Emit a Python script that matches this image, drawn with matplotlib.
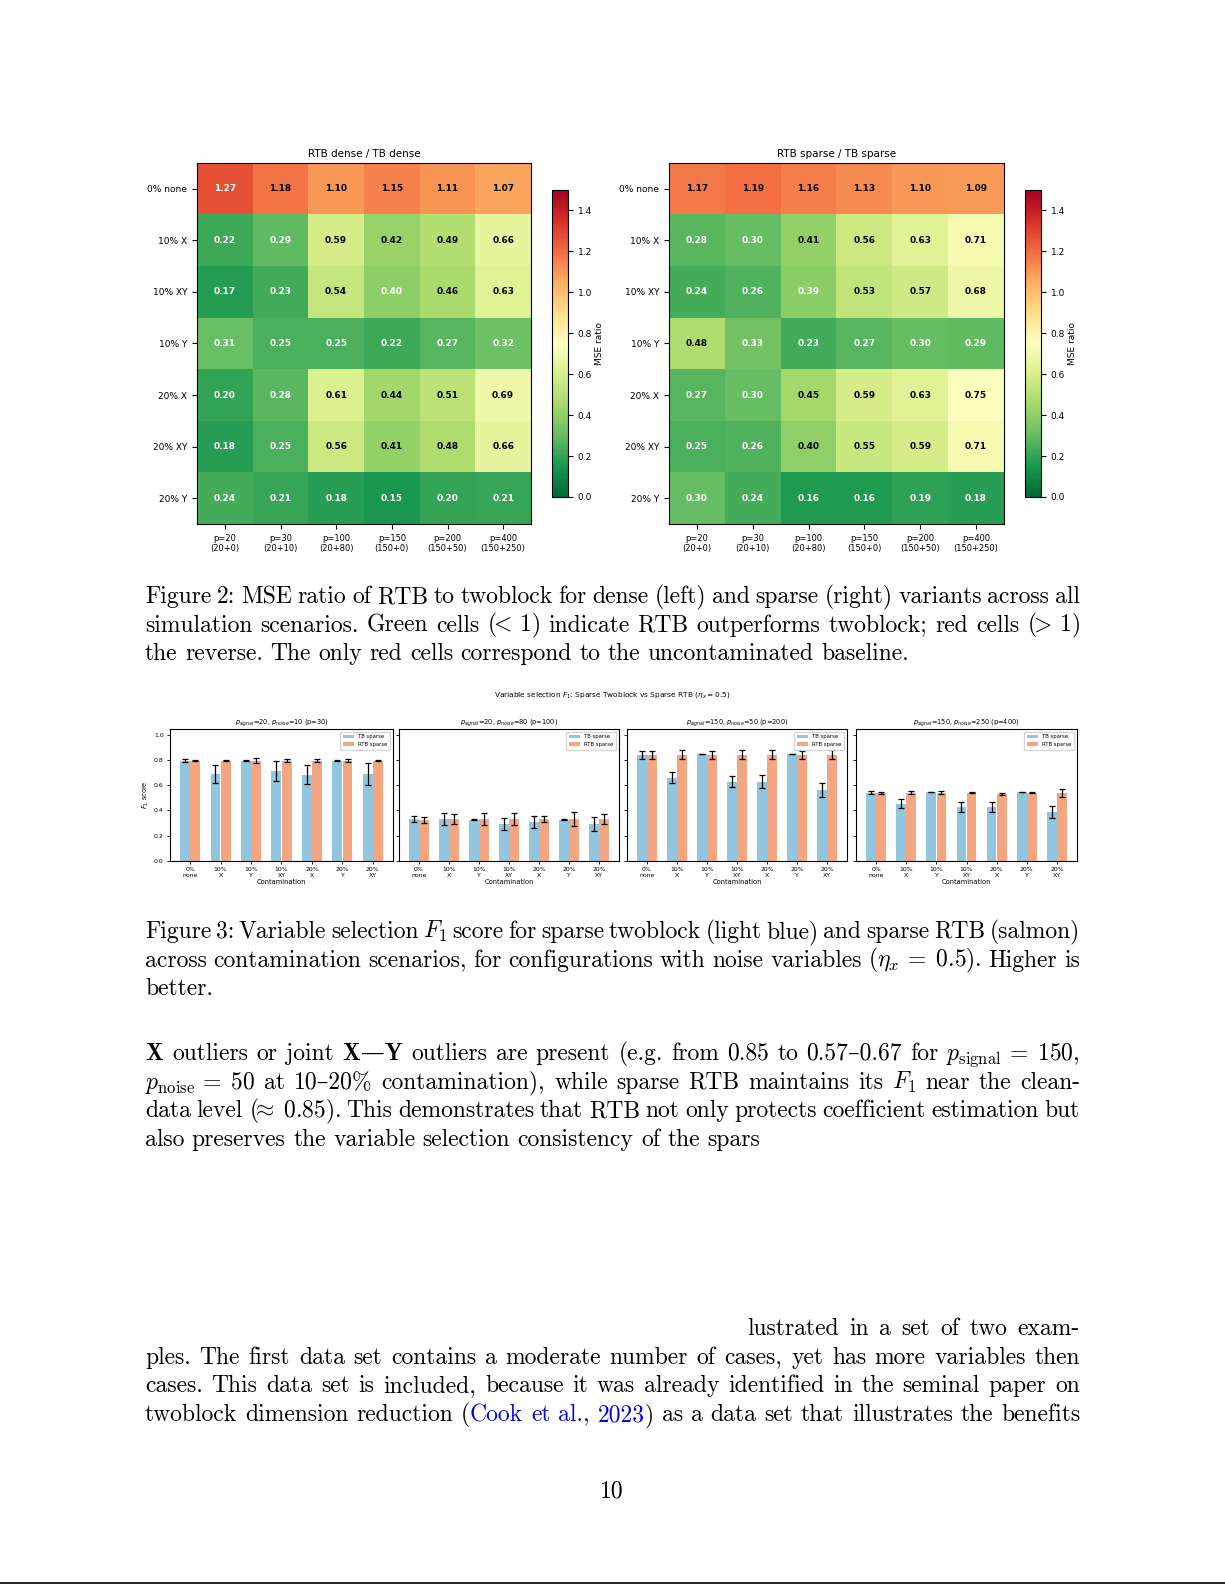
import numpy as np
import matplotlib
matplotlib.use("Agg")
import matplotlib.pyplot as plt
from matplotlib.lines import Line2D

W, H = 1225, 1585

# --- heatmap data (Figure 2) ---
rows = ["0% none", "10% X", "10% XY", "10% Y", "20% X", "20% XY", "20% Y"]
cols = ["p=20\n(20+0)", "p=30\n(20+10)", "p=100\n(20+80)",
        "p=150\n(150+0)", "p=200\n(150+50)", "p=400\n(150+250)"]
dense = [[1.27, 1.18, 1.10, 1.15, 1.11, 1.07],
         [0.22, 0.29, 0.59, 0.42, 0.49, 0.66],
         [0.17, 0.23, 0.54, 0.398, 0.46, 0.63],
         [0.31, 0.25, 0.25, 0.22, 0.27, 0.32],
         [0.20, 0.28, 0.61, 0.44, 0.51, 0.69],
         [0.18, 0.25, 0.56, 0.41, 0.48, 0.66],
         [0.24, 0.21, 0.18, 0.15, 0.20, 0.21]]
sparse = [[1.17, 1.19, 1.16, 1.13, 1.10, 1.09],
          [0.28, 0.30, 0.41, 0.56, 0.63, 0.71],
          [0.24, 0.26, 0.39, 0.53, 0.57, 0.68],
          [0.48, 0.33, 0.23, 0.27, 0.30, 0.29],
          [0.27, 0.30, 0.45, 0.59, 0.63, 0.75],
          [0.25, 0.26, 0.402, 0.55, 0.59, 0.71],
          [0.30, 0.24, 0.16, 0.16, 0.19, 0.18]]

# --- bar data (Figure 3) ---
contam = ["0%\nnone", "10%\nX", "10%\nY", "10%\nXY", "20%\nX", "20%\nY", "20%\nXY"]
panel_titles = [r"$p_{signal}$=20, $p_{noise}$=10 (p=30)",
                r"$p_{signal}$=20, $p_{noise}$=80 (p=100)",
                r"$p_{signal}$=150, $p_{noise}$=50 (p=200)",
                r"$p_{signal}$=150, $p_{noise}$=250 (p=400)"]
tb_mean = [[0.795, 0.69, 0.795, 0.714, 0.683, 0.795, 0.69],
           [0.333, 0.333, 0.328, 0.294, 0.31, 0.328, 0.294],
           [0.841, 0.659, 0.849, 0.627, 0.627, 0.849, 0.563],
           [0.54, 0.452, 0.545, 0.429, 0.429, 0.545, 0.389]]
tb_err = [[0.01, 0.072, 0.004, 0.078, 0.075, 0.002, 0.087],
          [0.027, 0.05, 0.003, 0.05, 0.05, 0.005, 0.055],
          [0.03, 0.045, 0.002, 0.045, 0.05, 0.002, 0.055],
          [0.013, 0.035, 0.002, 0.04, 0.04, 0.002, 0.05]]
rtb_mean = [[0.795, 0.795, 0.795, 0.795, 0.795, 0.795, 0.795],
            [0.325, 0.333, 0.333, 0.333, 0.333, 0.333, 0.333],
            [0.841, 0.841, 0.841, 0.841, 0.841, 0.841, 0.841],
            [0.54, 0.54, 0.54, 0.54, 0.532, 0.54, 0.54]]
rtb_err = [[0.005, 0.005, 0.02, 0.012, 0.012, 0.01, 0.004],
           [0.022, 0.037, 0.05, 0.045, 0.025, 0.057, 0.04],
           [0.03, 0.035, 0.03, 0.035, 0.035, 0.03, 0.035],
           [0.008, 0.013, 0.013, 0.004, 0.01, 0.004, 0.03]]

# --- page text ---
cap2 = [("Figure 2: MSE ratio of RTB to twoblock for dense (left) and sparse (right) variants across all", True),
        (r"simulation scenarios. Green cells ($\!\!<\,1$) indicate RTB outperforms twoblock; red cells ($\!\!>\,1$)", True),
        ("the reverse. The only red cells correspond to the uncontaminated baseline.", False)]
cap3 = [("Figure 3: Variable selection $F_1$ score for sparse twoblock (light blue) and sparse RTB (salmon)", True),
        (r"across contamination scenarios, for configurations with noise variables ($\eta_x\,=\;0.5$). Higher is", True),
        ("better.", False)]
para1 = [(r"$\mathbf{X}$ outliers or joint $\mathbf{X}$|—|$\mathbf{Y}$ outliers are present (e.g. from 0.85 to 0.57–0.67 for $p_{\mathrm{signal}}\,=\;150$,", True),
         (r"$p_{\mathrm{noise}}\,=\;50$ at 10–20% contamination), while sparse RTB maintains its $F_1$ near the clean-", True),
         (r"data level ($\!\!\approx\;0.85$). This demonstrates that RTB not only protects coefficient estimation but", True),
         ("also preserves the variable selection consistency of the spars", False)]
para2 = [("lustrated in a set of two exam-", True),
         ("ples. The first data set contains a moderate number of cases, yet has more variables then", True),
         ("cases. This data set is included, because it was already identified in the seminal paper on", True),
         ("twoblock dimension reduction (#Cook# #et# #al.#, #2023#) as a data set that illustrates the benefits", True)]

TB_C = "#92c5de"
RTB_C = "#f4a582"
LINK = "#0000ee"
LEFT, RIGHT = 145, 1080
FS = 17.0
BODY = dict(family=["cmr10", "DejaVu Serif"], math_fontfamily="cm", fontsize=FS)

fig = plt.figure(figsize=(W / 100, H / 100), dpi=100)


def px_axes(x0, y0, x1, y1):
    return fig.add_axes([x0 / W, 1 - y1 / H, (x1 - x0) / W, (y1 - y0) / H])


def heatmap(ax, cax, vals, title):
    data = np.array(vals)
    im = ax.imshow(data, cmap="RdYlGn_r", vmin=0, vmax=1.5, aspect="auto")
    ax.set_xticks(range(len(cols)), cols, fontsize=6)
    ax.set_yticks(range(len(rows)), rows, fontsize=6.5)
    ax.set_title(title, fontsize=7.5, pad=4)
    for i in range(data.shape[0]):
        for j in range(data.shape[1]):
            v = data[i, j]
            c = "white" if (v < 0.4 or v > 1.2) else "black"
            ax.text(j, i, f"{v:.2f}", ha="center", va="center", color=c,
                    fontsize=6.5, fontweight="bold")
    cb = fig.colorbar(im, cax=cax)
    cb.set_label("MSE ratio", fontsize=6.5, labelpad=2)
    cb.ax.tick_params(labelsize=6.5)


heatmap(px_axes(197, 163, 531, 524), px_axes(552, 190, 568, 497), dense, "RTB dense / TB dense")
heatmap(px_axes(669, 163, 1004, 524), px_axes(1025, 190, 1041, 497), sparse, "RTB sparse / TB sparse")

# bar panels
bar_boxes = [(170, 393), (399, 619), (627, 847), (856, 1077)]
x = np.arange(len(contam))
for k, (x0, x1) in enumerate(bar_boxes):
    ax = px_axes(x0, 729, x1, 861)
    ekw = dict(elinewidth=0.9, capthick=0.9)
    ax.bar(x - 0.17, tb_mean[k], 0.32, yerr=tb_err[k], color=TB_C, capsize=2,
           error_kw=ekw, label="TB sparse")
    ax.bar(x + 0.17, rtb_mean[k], 0.32, yerr=rtb_err[k], color=RTB_C, capsize=2,
           error_kw=ekw, label="RTB sparse")
    ax.set_ylim(0, 1.045)
    ax.set_yticks(np.arange(0, 1.01, 0.2))
    ax.set_xticks(x, contam)
    ax.tick_params(labelsize=4.4, length=2.5, width=0.6, pad=2)
    ax.set_title(panel_titles[k], fontsize=4.8, pad=3)
    ax.set_xlabel("Contamination", fontsize=4.8, labelpad=1)
    ax.legend(loc="upper right", fontsize=3.8, frameon=True, handlelength=2.2,
              borderpad=0.5, labelspacing=0.5)
    if k == 0:
        ax.set_ylabel("$F_1$ score", fontsize=4.8, labelpad=2)
        ax.set_yticklabels([f"{v:.1f}" for v in np.arange(0, 1.01, 0.2)])
    else:
        ax.tick_params(labelleft=False)

fig.text(612 / W, 1 - 695 / H, r"Variable selection $F_1$: Sparse Twoblock vs Sparse RTB ($\eta_x = 0.5$)",
         ha="center", va="center", fontsize=5.3)

# justified body text
renderer = fig.canvas.get_renderer()


def split_tokens(s):
    toks, cur, inmath = [], "", False
    for ch in s:
        if ch == "$":
            inmath = not inmath
        if ch == " " and not inmath:
            if cur:
                toks.append(cur)
            cur = ""
        else:
            cur += ch
    if cur:
        toks.append(cur)
    return toks


def segments(tok):
    out = []
    for i, part in enumerate(tok.split("#")):
        col = LINK if i % 2 else "black"
        for p in part.split("|"):
            if p:
                out.append((p, col))
    return out


def seg_width(txt):
    t = fig.text(0, 0, txt, **BODY)
    w = t.get_window_extent(renderer).width
    t.remove()
    return w


def put_line(s, ybase, justify, x0=LEFT, x1=RIGHT):
    toks = split_tokens(s)
    segs = [[(p, c, seg_width(p)) for p, c in segments(t)] for t in toks]
    widths = [sum(w for _, _, w in sg) for sg in segs]
    if justify and len(toks) > 1:
        gap = (x1 - x0 - sum(widths)) / (len(toks) - 1)
    else:
        gap = 7.5
    xp = x0
    for sg in segs:
        for p, c, w in sg:
            fig.text(xp / W, 1 - ybase / H, p, color=c, va="baseline", ha="left", **BODY)
            xp += w
        xp += gap


def put_block(lines, y0, step=28.7, first_x0=LEFT):
    for n, (s, just) in enumerate(lines):
        put_line(s, y0 + n * step, just, x0=first_x0 if n == 0 else LEFT)


put_block(cap2, 603)
put_block(cap3, 938)
put_block(para1, 1060)
put_block(para2, 1335, first_x0=747)

fig.text(612 / W, 1 - 1497 / H, "10", ha="center", va="baseline", **BODY)

# page edge rule at the bottom
fig.add_artist(Line2D([0, 1], [1 - 1583 / H, 1 - 1583 / H], color="black", lw=1.2))

fig.savefig("out.png", dpi=100)
